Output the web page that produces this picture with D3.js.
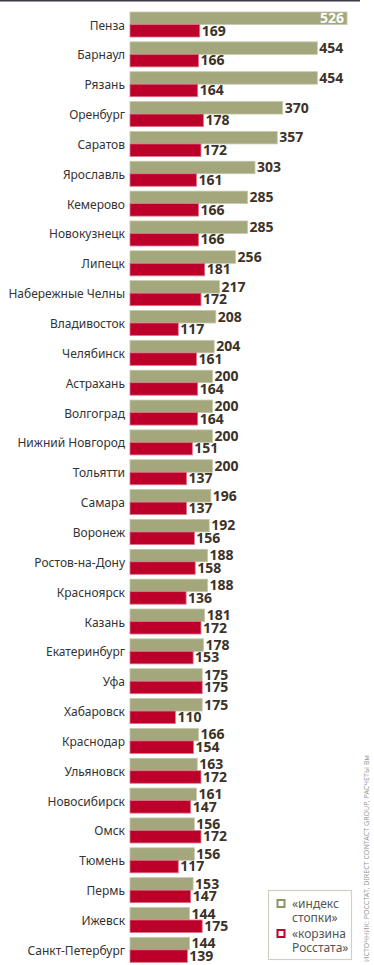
<!DOCTYPE html>
<html>
<head>
<meta charset="utf-8">
<script src="https://cdn.jsdelivr.net/npm/d3@7"></script>
<style>
  body { margin: 0; background: #fff; }
  svg { display: block; font-family: "Noto Sans", sans-serif; }
</style>
</head>
<body>
<div id="chart"></div>
<script>
// cities, top to bottom
const cities = ["Пенза", "Барнаул", "Рязань", "Оренбург", "Саратов", "Ярославль", "Кемерово",
  "Новокузнецк", "Липецк", "Набережные Челны", "Владивосток", "Челябинск", "Астрахань",
  "Волгоград", "Нижний Новгород", "Тольятти", "Самара", "Воронеж", "Ростов-на-Дону",
  "Красноярск", "Казань", "Екатеринбург", "Уфа", "Хабаровск", "Краснодар", "Ульяновск",
  "Новосибирск", "Омск", "Тюмень", "Пермь", "Ижевск", "Санкт-Петербург"];

// «индекс стопки»
const stopka = [526, 454, 454, 370, 357, 303, 285, 285, 256, 217, 208, 204, 200, 200, 200, 200,
  196, 192, 188, 188, 181, 178, 175, 175, 166, 163, 161, 156, 156, 153, 144, 144];

// «корзина Росстата»
const korzina = [169, 166, 164, 178, 172, 161, 166, 166, 181, 172, 117, 161, 164, 164, 151, 137,
  137, 156, 158, 136, 172, 153, 175, 110, 154, 172, 147, 172, 117, 147, 175, 139];

const legendLabels = [["«индекс", "стопки»"], ["«корзина", "Росстата»"]];
const source = "ИСТОЧНИК: РОССТАТ, DIRECT CONTACT GROUP, РАСЧЕТЫ Вм";

const width = 374, height = 965;
const green = "#a4a77b", red = "#bc0029";

const svg = d3.select("#chart").append("svg")
  .attr("width", width).attr("height", height);

// top rule
svg.append("rect").attr("x", 0).attr("y", 0).attr("width", 360).attr("height", 1.5)
  .attr("fill", "#3a3a48");

const x = d3.scaleLinear().domain([0, 526]).range([130, 347]);
const y = d3.scaleBand().domain(cities).range([12, 12 + cities.length * 29.85]);
const barH = 12.5;

const rows = svg.append("g").selectAll("g")
  .data(cities)
  .join("g")
  .attr("transform", d => `translate(0,${y(d)})`);

rows.append("text")
  .attr("x", 125).attr("y", 17.5)
  .attr("text-anchor", "end")
  .attr("font-size", 12).attr("fill", "#333")
  .text(d => d);

// green bars
rows.append("rect")
  .attr("x", x(0)).attr("y", 0)
  .attr("width", (d, i) => x(stopka[i]) - x(0))
  .attr("height", barH)
  .attr("fill", green)
  .attr("stroke", "#c6c8ad").attr("stroke-width", 0.8);

// red bars
rows.append("rect")
  .attr("x", x(0)).attr("y", barH)
  .attr("width", (d, i) => x(korzina[i]) - x(0))
  .attr("height", barH)
  .attr("fill", red)
  .attr("stroke", "#dc7088").attr("stroke-width", 0.8);

// values
rows.append("text")
  .attr("x", (d, i) => i === 0 ? x(stopka[i]) - 3 : x(stopka[i]) + 2)
  .attr("y", barH - 1.5)
  .attr("text-anchor", (d, i) => i === 0 ? "end" : "start")
  .attr("font-size", 14).attr("font-weight", "bold")
  .attr("fill", (d, i) => i === 0 ? "#fff" : "#3c3227")
  .text((d, i) => stopka[i]);

rows.append("text")
  .attr("x", (d, i) => x(korzina[i]) + 2)
  .attr("y", 2 * barH - 1.5)
  .attr("font-size", 14).attr("font-weight", "bold")
  .attr("fill", "#3c3227")
  .text((d, i) => korzina[i]);

// legend
const lg = svg.append("g");
lg.append("rect").attr("x", 268.5).attr("y", 890.5).attr("width", 83).attr("height", 69)
  .attr("fill", "#fff").attr("stroke", "#cfd0c0").attr("stroke-width", 1.2);

legendLabels.forEach((lines, k) => {
  const top = 899 + k * 30;
  lg.append("rect").attr("x", 277.5).attr("y", top + 1).attr("width", 7).attr("height", 7)
    .attr("fill", "#fff").attr("stroke", k === 0 ? "#8e9360" : red).attr("stroke-width", 2);
  lines.forEach((t, j) => {
    lg.append("text").attr("x", 292).attr("y", top + 9 + j * 14)
      .attr("font-size", 12).attr("fill", "#555").text(t);
  });
});

// source
svg.append("text")
  .attr("transform", "translate(369,962) rotate(-90)")
  .attr("font-size", 7).attr("fill", "#999")
  .attr("textLength", 207).attr("lengthAdjust", "spacingAndGlyphs")
  .text(source);
</script>
</body>
</html>
